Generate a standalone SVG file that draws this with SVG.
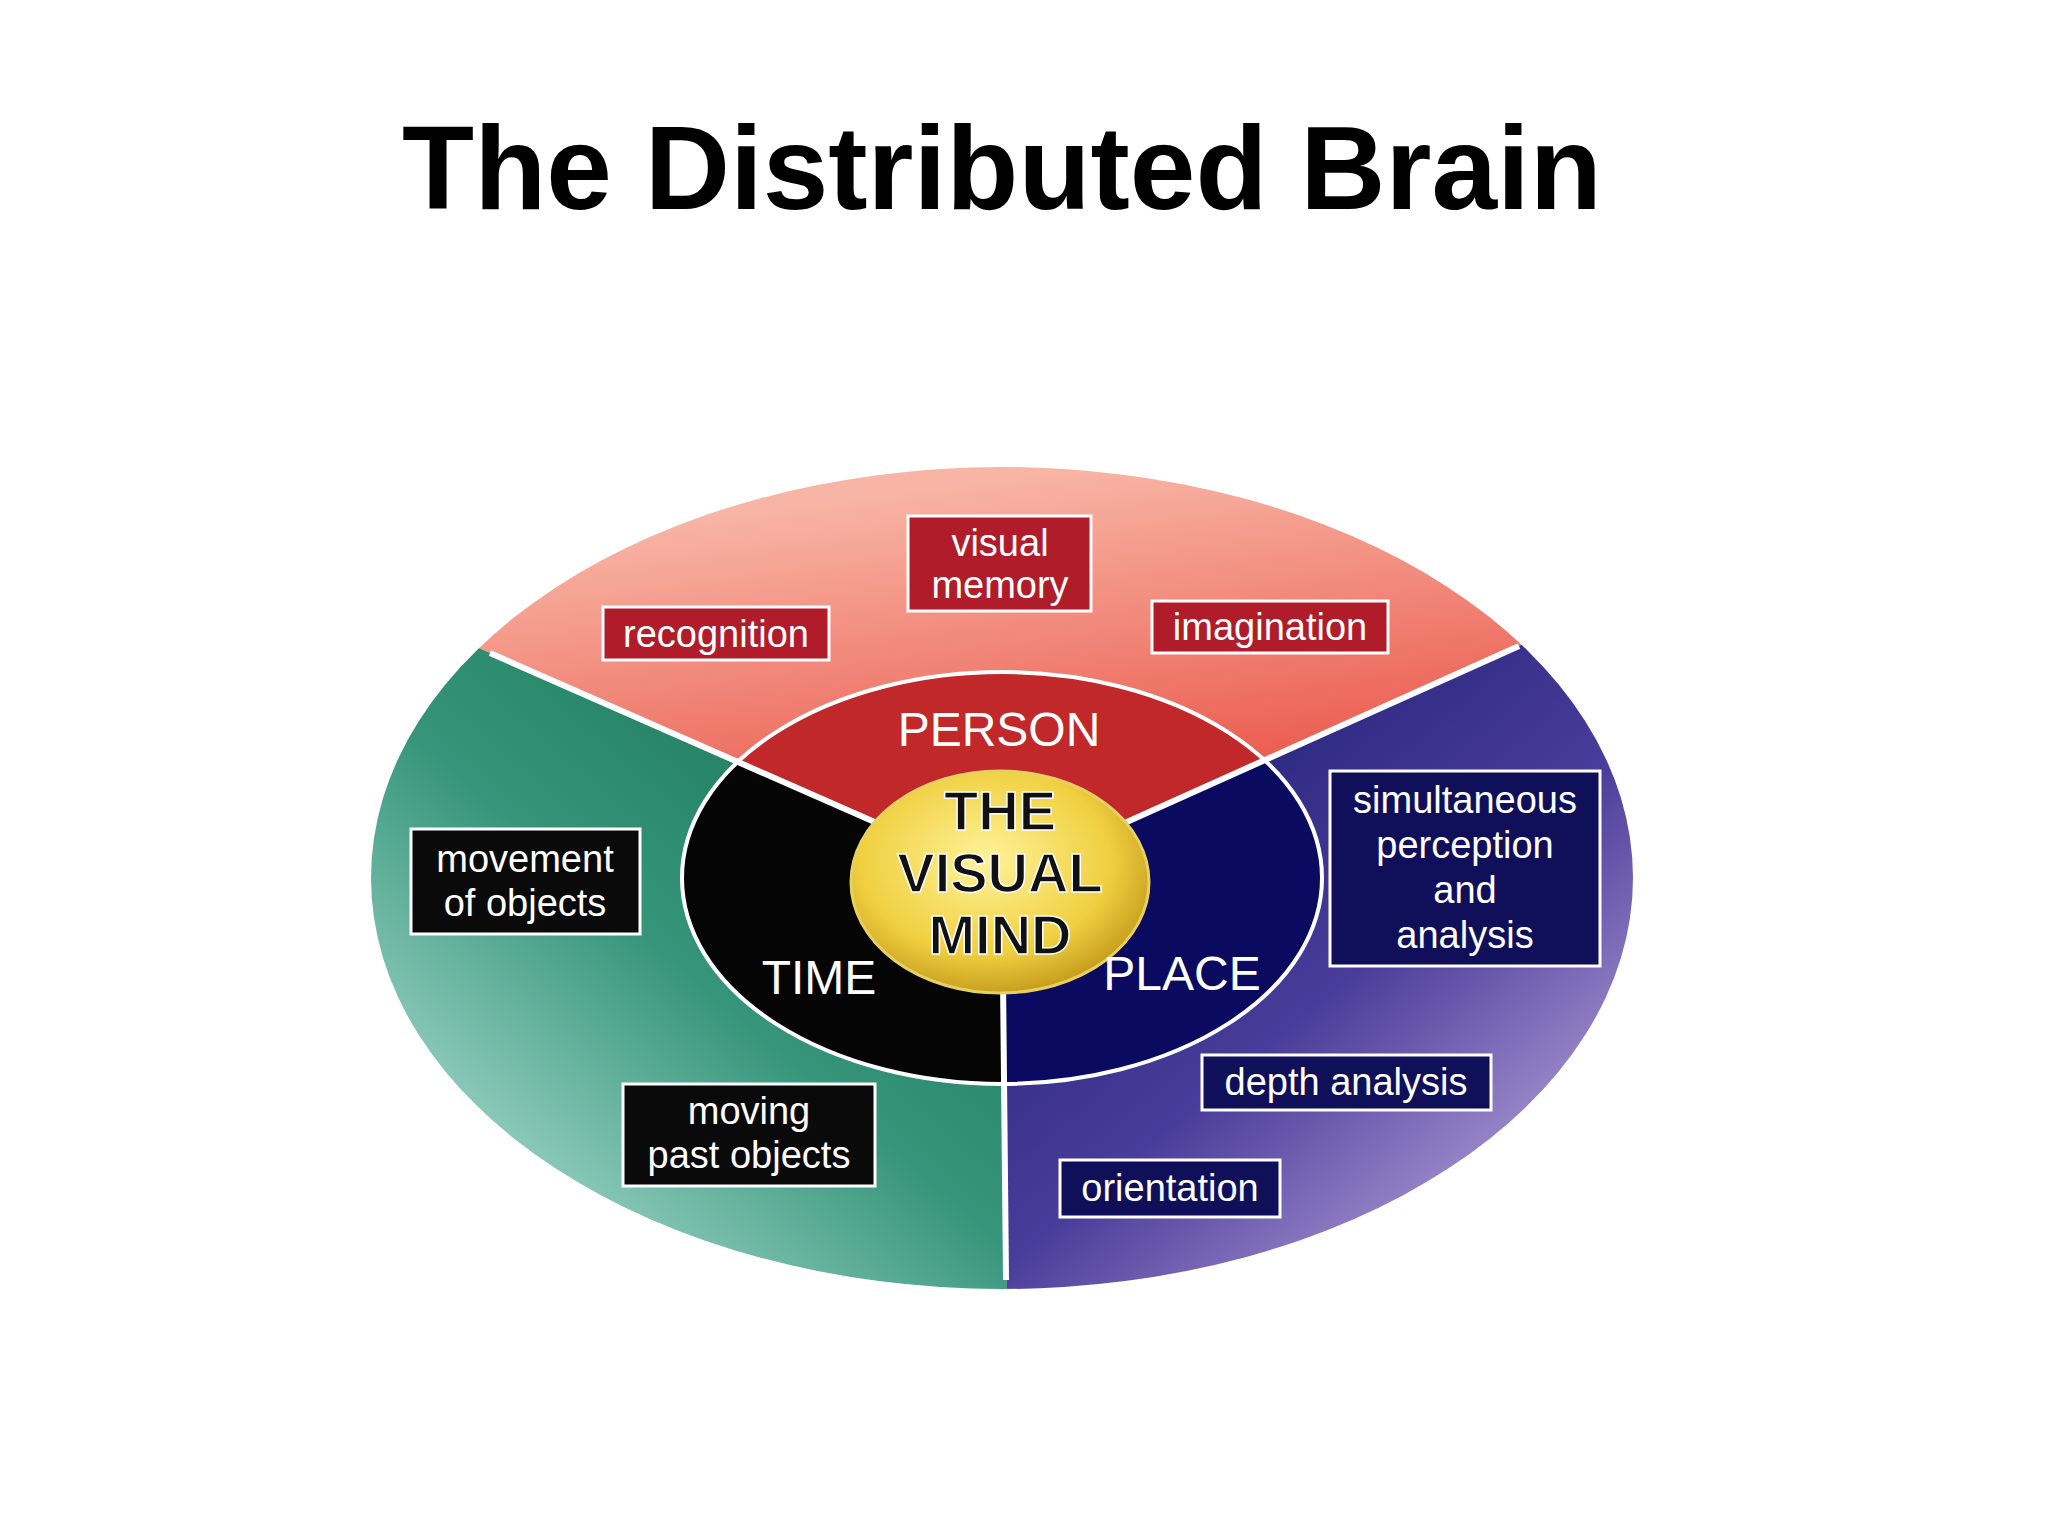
<svg xmlns="http://www.w3.org/2000/svg" width="2048" height="1536" viewBox="0 0 2048 1536">
<defs>
<clipPath id="outer"><ellipse cx="1002" cy="878" rx="631" ry="411"/></clipPath>
<clipPath id="inner"><ellipse cx="1002" cy="878" rx="320" ry="206"/></clipPath>
<linearGradient id="gRed" gradientUnits="userSpaceOnUse" x1="1000" y1="480" x2="1050" y2="860"><stop offset="0" stop-color="#f8b4a4"/><stop offset="1" stop-color="#e84a3e"/></linearGradient>
<linearGradient id="gGreen" gradientUnits="userSpaceOnUse" x1="850" y1="720" x2="420" y2="1220"><stop offset="0" stop-color="#1e7a5a"/><stop offset="0.45" stop-color="#36957a"/><stop offset="1" stop-color="#b4e2d8"/></linearGradient>
<linearGradient id="gBlue" gradientUnits="userSpaceOnUse" x1="1200" y1="720" x2="1620" y2="1220"><stop offset="0" stop-color="#26267c"/><stop offset="0.45" stop-color="#4a3c9a"/><stop offset="1" stop-color="#c8b2e4"/></linearGradient>
<radialGradient id="gYel" cx="0.45" cy="0.4" r="0.6"><stop offset="0" stop-color="#fff29a"/><stop offset="0.7" stop-color="#f0d040"/><stop offset="1" stop-color="#c8a020"/></radialGradient>
<style>
.lbl{font-family:"Liberation Sans",Arial,sans-serif;fill:#fff;font-size:38px;text-anchor:middle}
.big{font-family:"Liberation Sans",Arial,sans-serif;fill:#fff;font-size:48px;text-anchor:middle}
.box{stroke:#fff;stroke-width:3}
.rb{fill:#b01c2a}.kb{fill:#0a0a0a}.nb{fill:#10105a}
</style>
</defs>
<rect width="2048" height="1536" fill="#fff"/>
<text x="1002" y="209" font-family="'Liberation Sans',Arial,sans-serif" font-weight="bold" font-size="118" text-anchor="middle">The Distributed Brain</text>
<g id="regions" clip-path="url(#outer)">
<polygon points="1002,878 -22,428 -22,0 2048,0 2036,414" fill="url(#gRed)"/>
<polygon points="1002,878 -22,428 -22,1536 1010,1536" fill="url(#gGreen)"/>
<polygon points="1002,878 2036,414 2048,1536 1010,1536" fill="url(#gBlue)"/>
</g>
<g id="innerRegions" clip-path="url(#inner)">
<polygon points="1002,878 -22,428 -22,0 2048,0 2036,414" fill="#c0282a"/>
<polygon points="1002,878 -22,428 -22,1536 1010,1536" fill="#050505"/>
<polygon points="1002,878 2036,414 2048,1536 1010,1536" fill="#0a0a60"/>
</g>
<g id="connectors" stroke="#fff" stroke-width="6" fill="none">
<ellipse cx="1002" cy="878" rx="320" ry="206" stroke-width="4"/>
<line x1="1002" y1="878" x2="490" y2="653"/>
<line x1="1002" y1="878" x2="1519" y2="646"/>
<line x1="1002" y1="878" x2="1006" y2="1280"/>
</g>
<g id="center"><ellipse cx="1000" cy="882" rx="149" ry="111" fill="url(#gYel)" stroke="#e8d060" stroke-width="3"/>
<g font-family="'Liberation Sans',Arial,sans-serif" font-size="56" font-weight="bold" text-anchor="middle" fill="#111" stroke="#fff" stroke-width="1.5"><text x="1000" y="830">THE</text><text x="1000" y="892">VISUAL</text><text x="1000" y="954">MIND</text></g></g>
<g id="person"><text class="big" x="999" y="746">PERSON</text></g>
<g id="time"><text class="big" x="819" y="994">TIME</text></g>
<g id="place"><text class="big" x="1182" y="990">PLACE</text></g>
<g id="visual-memory"><rect class="box rb" x="908" y="516" width="183" height="95"/><text class="lbl" x="1000" y="556">visual</text><text class="lbl" x="1000" y="598">memory</text></g>
<g id="recognition"><rect class="box rb" x="603" y="607" width="226" height="53"/><text class="lbl" x="716" y="647">recognition</text></g>
<g id="imagination"><rect class="box rb" x="1152" y="601" width="236" height="52"/><text class="lbl" x="1270" y="640">imagination</text></g>
<g id="movement"><rect class="box kb" x="411" y="829" width="229" height="105"/><text class="lbl" x="525" y="872">movement</text><text class="lbl" x="525" y="916">of objects</text></g>
<g id="moving-past"><rect class="box kb" x="623" y="1084" width="252" height="102"/><text class="lbl" x="749" y="1124">moving</text><text class="lbl" x="749" y="1168">past objects</text></g>
<g id="simultaneous"><rect class="box nb" x="1330" y="771" width="270" height="195"/><text class="lbl" x="1465" y="813">simultaneous</text><text class="lbl" x="1465" y="858">perception</text><text class="lbl" x="1465" y="903">and</text><text class="lbl" x="1465" y="948">analysis</text></g>
<g id="depth"><rect class="box nb" x="1202" y="1055" width="289" height="55"/><text class="lbl" x="1346" y="1095">depth analysis</text></g>
<g id="orientation"><rect class="box nb" x="1060" y="1160" width="220" height="57"/><text class="lbl" x="1170" y="1201">orientation</text></g>
</svg>
